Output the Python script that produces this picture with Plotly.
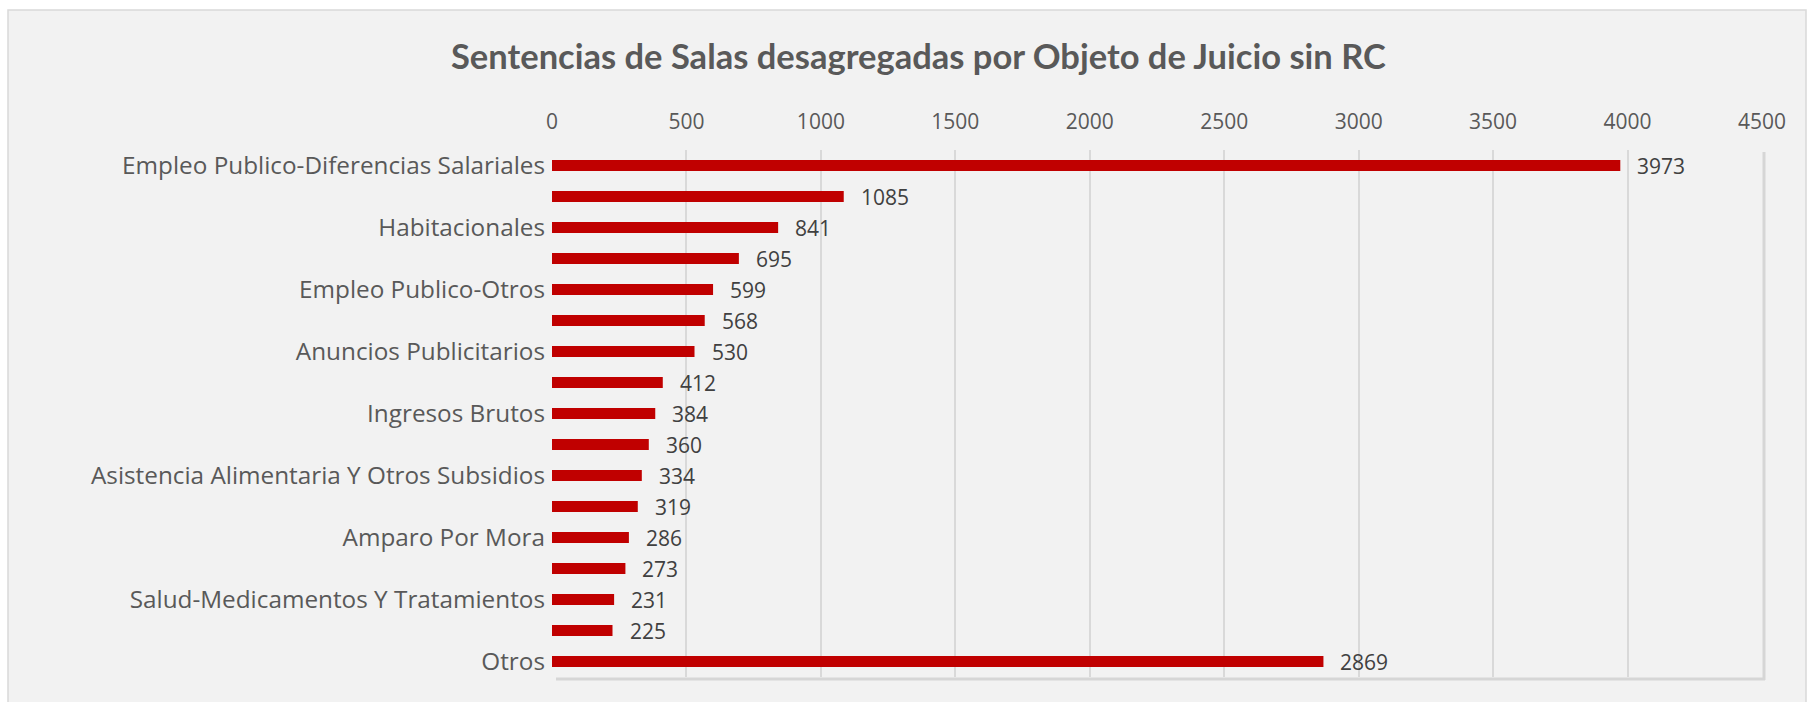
import plotly.graph_objects as go

title_text = "Sentencias de Salas desagregadas por Objeto de Juicio sin RC"
labels = [
    "Empleo Publico-Diferencias Salariales", "",
    "Habitacionales", "",
    "Empleo Publico-Otros", "",
    "Anuncios Publicitarios", "",
    "Ingresos Brutos", "",
    "Asistencia Alimentaria Y Otros Subsidios", "",
    "Amparo Por Mora", "",
    "Salud-Medicamentos Y Tratamientos", "",
    "Otros",
]
values = [3973, 1085, 841, 695, 599, 568, 530, 412, 384, 360, 334, 319, 286, 273, 231, 225, 2869]
x_ticks = [0, 500, 1000, 1500, 2000, 2500, 3000, 3500, 4000, 4500]

W, H = 1814, 702
L, R, T, B = 552, 52, 150, 25
pw, ph = W - L - R, H - T - B

def px_x(p):
    return (p - L) / pw

def px_y(p):
    return (H - B - p) / ph

positions = list(range(len(values)))
FONT = "Open Sans"
TITLE_FONT = "Lato"

fig = go.Figure()
fig.add_trace(go.Bar(
    x=values, y=positions, orientation="h",
    marker=dict(color="#C00000", line=dict(width=0)),
    width=0.355, hoverinfo="x+y",
))

annotations = [
    dict(x=v, y=i, xref="x", yref="y", text=str(v), showarrow=False,
         xanchor="left", xshift=15, font=dict(family=FONT, size=21, color="#404040"))
    for i, v in enumerate(values)
]
annotations.append(dict(
    x=px_x(918), y=px_y(55), xref="paper", yref="paper", text="<b>" + title_text + "</b>",
    showarrow=False, xanchor="center", yanchor="middle",
    font=dict(family=TITLE_FONT, size=34.5, color="#595959"),
))

shapes = [
    # chart area box
    dict(type="rect", xref="paper", yref="paper", layer="below",
         x0=px_x(8), x1=px_x(1806), y0=px_y(720), y1=px_y(10),
         fillcolor="#F2F2F2", line=dict(color="#D9D9D9", width=1.5)),
    # plot area shadow (right and bottom)
    dict(type="line", xref="paper", yref="paper", layer="below",
         x0=px_x(1764), x1=px_x(1764), y0=px_y(680), y1=px_y(152),
         line=dict(color="#D6D6D6", width=3)),
    dict(type="line", xref="paper", yref="paper", layer="below",
         x0=px_x(556), x1=px_x(1765), y0=px_y(679), y1=px_y(679),
         line=dict(color="#D6D6D6", width=3)),
]

fig.update_layout(
    width=W, height=H,
    margin=dict(l=L, r=R, t=T, b=B, pad=0),
    paper_bgcolor="white",
    plot_bgcolor="rgba(0,0,0,0)",
    showlegend=False,
    annotations=annotations,
    shapes=shapes,
    font=dict(family=FONT, color="#595959"),
    xaxis=dict(
        side="top", range=[0, 4500], tickvals=x_ticks, ticktext=[str(t) for t in x_ticks],
        showgrid=True, gridcolor="#D9D9D9", gridwidth=1.5,
        zeroline=False, showline=False, ticks="",
        tickfont=dict(family=FONT, size=21, color="#595959"),
        ticklabelstandoff=16, fixedrange=True,
    ),
    yaxis=dict(
        range=[len(values) - 0.5, -0.5],
        tickvals=[i for i, l in enumerate(labels) if l],
        ticktext=[l for l in labels if l],
        showgrid=False, zeroline=False, showline=False, ticks="",
        tickfont=dict(family=FONT, size=24.3, color="#595959"),
        ticklabelstandoff=6, fixedrange=True,
    ),
)

fig.write_html("out.html", config={"displayModeBar": False},
               post_script="document.body.style.margin='0';")
